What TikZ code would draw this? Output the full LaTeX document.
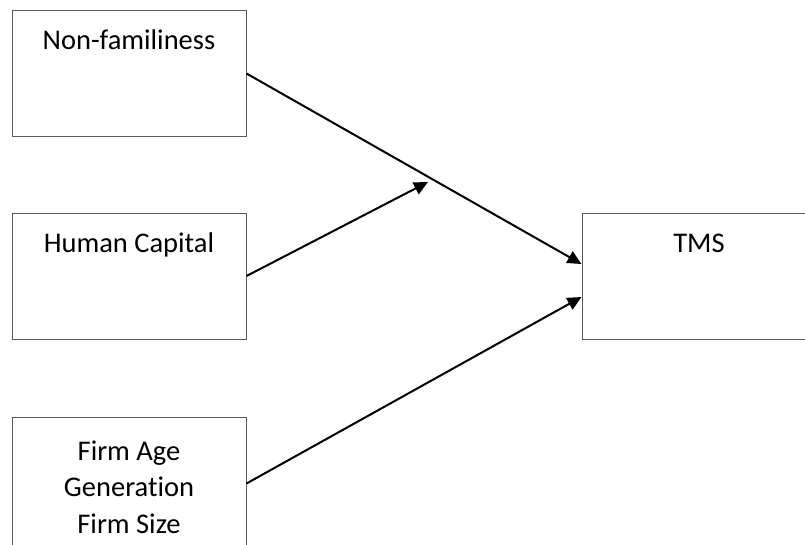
\documentclass[tikz,border=0pt]{standalone}
\usepackage{fontspec}
\setmainfont{Carlito}[Ligatures=NoCommon]
\usepackage{tikz}
\usetikzlibrary{positioning}
\usetikzlibrary{arrows.meta}

\begin{document}
\begin{tikzpicture}[x=1pt, y=-1pt,
    varbox/.style={draw=black!65, line width=1pt, minimum width=234pt, minimum height=126pt, inner sep=0pt},
    vartext/.style={font=\fontsize{28.5}{36.5}\selectfont, align=center, anchor=base, inner sep=0pt},
    path/.style={line width=2pt, -{Triangle[length=14pt, width=13pt]}}]

    \useasboundingbox (0,0) rectangle (805,544);
    \clip (0,0) rectangle (805,544);

    \node[varbox] (nonfam) at (129,73.5) {};
    \node[varbox] (humcap) at (129,276) {};
    \node[varbox, minimum height=133pt] (ctrl) at (129,483.5) {};
    \node[varbox] (tms) at (699,276) {};

    \node[vartext] (nonfamtxt) at (129,49) {Non-familiness};
    \node[vartext] (humcaptxt) at (129,252) {Human Capital};
    \node[vartext] (ctrltxt) at (129,533) {Firm Age\\Generation\\Firm Size};
    \node[vartext] (tmstxt) at (699,252) {TMS};

    \coordinate (mod) at (428,182);

    \draw[path] (nonfam.east) -- ([yshift=12pt]tms.west);
    \draw[path] (humcap.east) -- (mod);
    \draw[path] (ctrl.east) -- ([yshift=-21pt]tms.west);

\end{tikzpicture}
\end{document}
